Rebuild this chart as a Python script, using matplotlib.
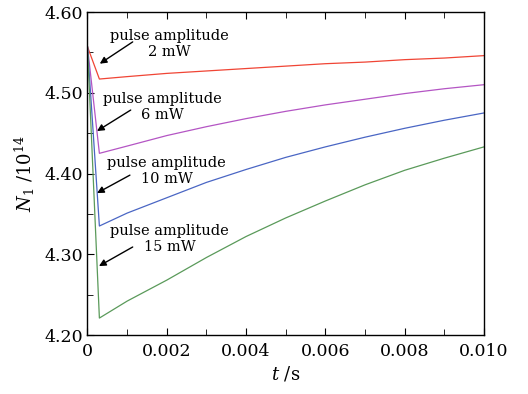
import matplotlib
matplotlib.use("Agg")
import matplotlib.pyplot as plt
from matplotlib.ticker import MultipleLocator, FormatStrFormatter

t = [0.0, 0.0003, 0.001, 0.002, 0.003, 0.004, 0.005, 0.006, 0.007, 0.008, 0.009, 0.010]
n_2mw = [4.557, 4.517, 4.520, 4.524, 4.527, 4.530, 4.533, 4.536, 4.538, 4.541, 4.543, 4.546]
n_6mw = [4.557, 4.425, 4.434, 4.447, 4.458, 4.468, 4.477, 4.485, 4.492, 4.499, 4.505, 4.510]
n_10mw = [4.557, 4.335, 4.351, 4.370, 4.389, 4.405, 4.420, 4.433, 4.445, 4.456, 4.466, 4.475]
n_15mw = [4.557, 4.221, 4.242, 4.268, 4.296, 4.322, 4.345, 4.366, 4.386, 4.404, 4.419, 4.433]

series = [n_2mw, n_6mw, n_10mw, n_15mw]
colors = ["#f04535", "#b455c4", "#4a66c4", "#5a9a5a"]
labels = ["pulse amplitude\n2 mW", "pulse amplitude\n6 mW",
          "pulse amplitude\n10 mW", "pulse amplitude\n15 mW"]

xticks = [0, 0.002, 0.004, 0.006, 0.008, 0.010]
yticks = [4.20, 4.30, 4.40, 4.50, 4.60]

plt.rcParams["font.family"] = ["DejaVu Serif"]
plt.rcParams["mathtext.fontset"] = "dejavuserif"

fig = plt.figure(figsize=(5.28, 3.94), dpi=100)
ax = fig.add_axes([0.1657, 0.1497, 0.751, 0.8198])

for y, c in zip(series, colors):
    ax.plot(t, y, color=c, lw=0.9)

# annotations: text positions, arrow tails and heads (data coords)
text_pos = [(0.00207, 4.5605), (0.0019, 4.4825), (0.0020, 4.4035), (0.00207, 4.319)]
arrow_tail = [(0.00114, 4.563), (0.00109, 4.4786), (0.00107, 4.398), (0.00114, 4.309)]
arrow_head = [(0.00031, 4.536), (0.00024, 4.4526), (0.00024, 4.3758), (0.00029, 4.2854)]

for lab, tp, at, ah in zip(labels, text_pos, arrow_tail, arrow_head):
    ax.text(tp[0], tp[1], lab, ha="center", va="center", fontsize=10.5,
            linespacing=1.2)
    ax.annotate("", xy=ah, xytext=at,
                arrowprops=dict(arrowstyle="-|>", color="black", lw=1.0,
                                mutation_scale=10, shrinkA=0, shrinkB=0))

ax.set_xlim(0, 0.010)
ax.set_ylim(4.20, 4.60)
ax.set_xticks(xticks)
ax.set_yticks(yticks)
ax.set_xticklabels(["0"] + ["%.3f" % v for v in xticks[1:]])
ax.yaxis.set_major_formatter(FormatStrFormatter("%.2f"))
ax.xaxis.set_minor_locator(MultipleLocator(0.001))
ax.yaxis.set_minor_locator(MultipleLocator(0.05))
ax.tick_params(which="both", direction="in", top=True, right=False,
               labelsize=12.5)
ax.tick_params(which="major", length=5)
ax.tick_params(which="minor", length=4)
ax.tick_params(axis="x", which="major", pad=6)

ax.set_xlabel(r"$t$ /s", fontsize=13, labelpad=3)
ax.set_ylabel(r"$N_1$ /10$^{14}$", fontsize=13, labelpad=5)

for s in ax.spines.values():
    s.set_linewidth(1.0)

fig.savefig("out.png", dpi=100)
